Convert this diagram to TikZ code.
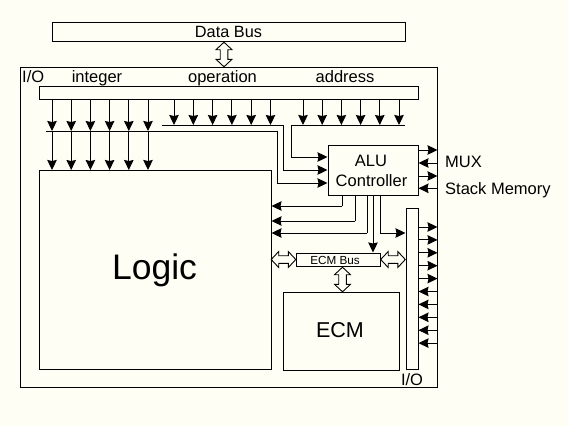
\documentclass[tikz,border=0pt]{standalone}
\usepackage{fontspec}
\setmainfont{Liberation Sans}
\usetikzlibrary{arrows.meta}
\definecolor{bgcol}{RGB}{254,254,244}
\tikzset{
  box/.style={draw, line width=1pt, inner sep=0pt, fill=none},
  wire/.style={line width=1pt},
  arr/.style={line width=1pt, -{Stealth[length=10pt,width=9.5pt,inset=1pt]}},
  lbl/.style={anchor=base, inner sep=0pt},
  lblw/.style={anchor=base west, inner sep=0pt},
  fs/.style={font=\fontsize{#1}{#1}\selectfont},
  pics/dbl/.style={code={
    \draw[line width=0.9pt, fill=bgcol] (-12.3,0) -- (-4.8,-8) -- (-4.8,-3.8) -- (4.8,-3.8) -- (4.8,-8) -- (12.3,0)
      -- (4.8,8) -- (4.8,3.8) -- (-4.8,3.8) -- (-4.8,8) -- cycle;}}
}
\begin{document}
\begin{tikzpicture}[x=1pt,y=-1pt]
\fill[bgcol] (0,0) rectangle (568,426);
\useasboundingbox (0,0) rectangle (568,426);

% boxes
\node[box, minimum width=353, minimum height=19] (databus) at (228.5,31.5) {};
\node[box, minimum width=417, minimum height=320] (outer) at (228.5,227) {};
\node[box, minimum width=379, minimum height=12.5] (bar) at (228.5,93) {};
\node[box, minimum width=90, minimum height=50] (alu) at (373,170) {};
\node[box, minimum width=232, minimum height=199] (logic) at (155,269.5) {};
\node[box, minimum width=84, minimum height=13] (ecmbus) at (338,259.5) {};
\node[box, minimum width=116, minimum height=78] (ecm) at (341,331) {};
\node[box, minimum width=12, minimum height=161] (iobar) at (412,288.5) {};

% texts
\node[lbl, fs=16.3] (tdb) at (228.5,37) {Data Bus};
\node[lblw, fs=16.5] (tio1) at (22,82) {I/O};
\node[lbl, fs=16.5] (tint) at (97,82) {integer};
\node[lbl, fs=16.5] (top) at (222.5,82) {operation};
\node[lbl, fs=16.5] (tad) at (345,82) {address};
\node[lbl, fs=16.5] (talu) at (371,166) {ALU};
\node[lbl, fs=16.5] (tctl) at (371.5,186) {Controller};
\node[lblw, fs=16.5] (tmux) at (445,167) {MUX};
\node[lblw, fs=16.5] (tsm) at (445,194) {Stack Memory};
\node[lbl, fs=35.5] (tlogic) at (154.5,279) {Logic};
\node[lbl, fs=21.5] (tecm) at (340,337.5) {ECM};
\node[lbl, fs=11.7] (tecmb) at (335,264) {ECM Bus};
\node[lbl, fs=16.5] (tio2) at (412,385) {I/O};

% double arrows
\pic[rotate=90] at (224,54.5) {dbl};
\pic at (283.5,259.5) {dbl};
\pic at (393,259.5) {dbl};
\pic[rotate=90] at (342.5,279.5) {dbl};

% integer arrows
\foreach \i in {0,...,5} {
  \pgfmathsetmacro{\xx}{52+19.2*\i}
  \draw[arr] (\xx,99.3) -- (\xx,131);
  \draw[arr] (\xx,131) -- (\xx,170);
}
% operation & address arrows
\foreach \i in {0,...,5} {
  \pgfmathsetmacro{\xo}{174+19.3*\i}
  \pgfmathsetmacro{\xa}{303+19.2*\i}
  \draw[arr] (\xo,99.3) -- (\xo,125);
  \draw[arr] (\xa,99.3) -- (\xa,125);
}
% collecting lines to ALU
\draw[wire] (46,131) -- (277,131) -- (277,183);
\draw[arr] (277,183) -- (alu.west |- 0,183);
\draw[wire] (162,125) -- (283,125) -- (283,170);
\draw[arr] (283,170) -- (alu.west |- 0,170);
\draw[wire] (405,125) -- (291,125) -- (291,157);
\draw[arr] (291,157) -- (alu.west |- 0,157);

% ALU right side
\draw[arr] (alu.east |- 0,150) -- (outer.east |- 0,150);
\draw[arr] (outer.east |- 0,163) -- (alu.east |- 0,163);
\draw[arr] (alu.east |- 0,176) -- (outer.east |- 0,176);
\draw[arr] (outer.east |- 0,188.3) -- (alu.east |- 0,188.3);

% ALU bottom
\draw[wire] (alu.south -| 342,0) -- (342,206);
\draw[arr] (342,206) -- (logic.east |- 0,206);
\draw[wire] (alu.south -| 355,0) -- (355,221);
\draw[arr] (355,221) -- (logic.east |- 0,221);
\draw[wire] (alu.south -| 367,0) -- (367,233);
\draw[arr] (367,233) -- (logic.east |- 0,233);
\draw[arr] (alu.south -| 373,0) -- (ecmbus.north -| 373,0);
\draw[wire] (alu.south -| 380,0) -- (380,233);
\draw[arr] (380,233) -- (iobar.west |- 0,233);

% I/O bar arrows
\foreach \i in {0,...,4} {
  \pgfmathsetmacro{\yy}{227+12.9*\i}
  \draw[arr] (iobar.east |- 0,\yy) -- (outer.east |- 0,\yy);
}
\foreach \i in {5,...,9} {
  \pgfmathsetmacro{\yy}{227+12.9*\i}
  \draw[arr] (outer.east |- 0,\yy) -- (iobar.east |- 0,\yy);
}
\end{tikzpicture}
\end{document}
